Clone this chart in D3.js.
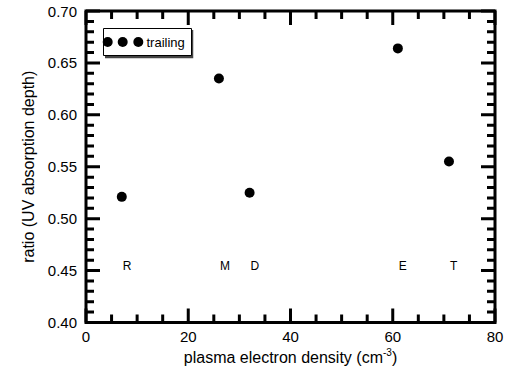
<!DOCTYPE html>
<html><head><meta charset="utf-8">
<script src="https://cdn.jsdelivr.net/npm/d3@7"></script>
<style>body{margin:0;background:#fff}svg{display:block}text{font-family:"Liberation Sans",Arial,Helvetica,sans-serif}</style>
</head><body>
<script>
const densities = [7, 26, 32, 61, 71];
const ratios = [0.521, 0.635, 0.525, 0.664, 0.555];
const pointLabels = ["R", "M", "D", "E", "T"];
const labelRatio = 0.45;
const xMajorTicks = [0, 20, 40, 60, 80];
const yMajorTicks = [0.40, 0.45, 0.50, 0.55, 0.60, 0.65, 0.70];
const xMinorTicks = [5,10,15,25,30,35,45,50,55,65,70,75];
const yMinorTicks = [0.41,0.42,0.43,0.44,0.46,0.47,0.48,0.49,0.51,0.52,0.53,0.54,0.56,0.57,0.58,0.59,0.61,0.62,0.63,0.64,0.66,0.67,0.68,0.69];
const legendLabel = "trailing";

const width = 506, height = 374;
const left = 86, right = 495, top0 = 11, bottom = 322.5;
const lw = 3;
const svg = d3.select("body").append("svg").attr("width", width).attr("height", height);
const xs = d3.scaleLinear().domain([0, 80]).range([left, right]);
const ys = d3.scaleLinear().domain([0.40, 0.70]).range([bottom, top0]);

// ticks as one path per set
function tickPath(){
  let p = "";
  xMajorTicks.forEach(v => { const px = xs(v); p += `M${px},${bottom}V${bottom-14}M${px},${top0}V${top0+14}`; });
  xMinorTicks.forEach(v => { const px = xs(v); p += `M${px},${bottom}V${bottom-8}M${px},${top0}V${top0+8}`; });
  yMajorTicks.forEach(v => { const py = ys(v); p += `M${left},${py}H${left+14}M${right},${py}H${right-14}`; });
  yMinorTicks.forEach(v => { const py = ys(v); p += `M${left},${py}H${left+8}M${right},${py}H${right-8}`; });
  return p;
}
svg.append("path").attr("d", tickPath()).attr("fill","none").attr("stroke","#000").attr("stroke-width",lw);
svg.append("path").attr("d", `M${left},${top0}H${right}V${bottom}H${left}Z`)
  .attr("fill","none").attr("stroke","#000").attr("stroke-width",lw).attr("stroke-linejoin","miter");

// tick labels
svg.append("g").selectAll("text").data(xMajorTicks).join("text")
  .attr("x",d=>xs(d)).attr("y",342).attr("text-anchor","middle").attr("font-size",15)
  .text(d3.format("d"));
svg.append("g").selectAll("text").data(yMajorTicks).join("text")
  .attr("x",77).attr("y",d=>ys(d)+5.5).attr("text-anchor","end").attr("font-size",15)
  .text(d3.format(".2f"));

// points
svg.append("g").selectAll("circle").data(densities).join("circle")
  .attr("cx",(d)=>xs(d)).attr("cy",(d,i)=>ys(ratios[i])).attr("r",5).attr("fill","#000");

// point labels
svg.append("g").selectAll("text").data(pointLabels).join("text")
  .attr("x",(d,i)=>xs(densities[i])+1).attr("y",ys(labelRatio)-1)
  .attr("font-size",12).attr("fill","#000").text(d=>d);

// axis titles
const xt = svg.append("text").attr("x",(left+right)/2).attr("y",363).attr("text-anchor","middle").attr("font-size",16);
xt.append("tspan").text("plasma electron density (cm");
xt.append("tspan").attr("font-size",10).attr("dy",-7).text("-3");
xt.append("tspan").attr("dy",7).text(")");
svg.append("text").attr("transform",`translate(34,${(top0+bottom)/2}) rotate(-90)`).attr("text-anchor","middle")
  .attr("font-size",16).text("ratio (UV absorption depth)");

// legend
const lg = svg.append("g");
lg.append("path").attr("d","M192,30V57H105").attr("fill","none").attr("stroke","#444").attr("stroke-width",2.5);
lg.append("path").attr("d","M103.5,28.5H191.5V55.5H103.5Z").attr("fill","#fff").attr("stroke","#000").attr("stroke-width",1);
lg.selectAll("circle").data([107.7,122.7,138.3]).join("circle")
  .attr("cx",d=>d).attr("cy",42).attr("r",5).attr("fill","#000");
lg.append("text").attr("x",146.5).attr("y",46.5).attr("font-size",13).text(legendLabel);
</script>
</body></html>
